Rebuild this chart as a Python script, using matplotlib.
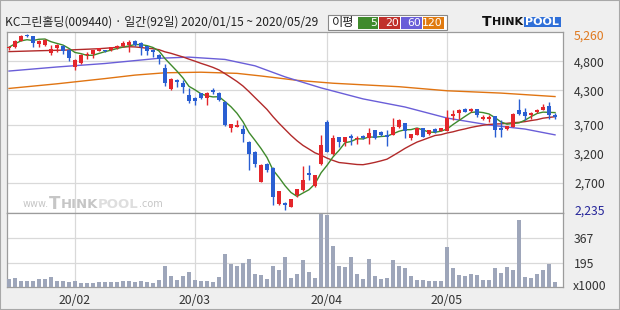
import matplotlib
matplotlib.use("Agg")
import matplotlib.pyplot as plt
import numpy as np
import pandas as pd
from matplotlib.patches import Rectangle

plt.rcParams['font.family'] = ['Noto Sans CJK KR', 'DejaVu Sans']

# ---------------- data ----------------
holidays = ['2020-01-24', '2020-01-27', '2020-04-15', '2020-04-30', '2020-05-01', '2020-05-05']
dates = pd.bdate_range('2020-01-15', '2020-05-29', freq='C', holidays=holidays)

opens = [5020, 5040, 5150, 5250, 5230, 5100, 5080, 4940, 5020, 5070,
         4990, 4700, 4770, 4900, 4920, 4980, 4990, 4990, 5020, 5070,
         5080, 5140, 5120, 5060, 5000, 4910, 4690, 4320, 4480, 4420,
         4220, 4160, 4250, 4160, 4300, 4260, 4100, 3640, 3670, 3630,
         3410, 3240, 2720, 3030, 2960, 2330, 2360, 2290, 2490, 2580,
         2880, 2640, 3020, 3750, 3200, 3490, 3410, 3510, 3450, 3510,
         3470, 3610, 3580, 3530, 3530, 3660, 3730, 3480, 3530, 3640,
         3540, 3630, 3600, 3600, 3860, 3900, 3980, 3940, 3970, 3800,
         3800, 3850, 3650, 3630, 3670, 3960, 3920, 3870, 3920, 3960,
         4020, 3870]
highs = [5060, 5170, 5250, 5260, 5240, 5160, 5180, 5080, 5090, 5080,
         5010, 4840, 4920, 4960, 5000, 5030, 5000, 5050, 5080, 5140,
         5170, 5160, 5130, 5070, 5010, 4920, 4750, 4510, 4490, 4480,
         4330, 4180, 4260, 4270, 4330, 4270, 4110, 3720, 3790, 3700,
         3420, 3250, 3020, 3040, 2970, 2570, 2370, 2430, 2600, 2990,
         3010, 2840, 3530, 3790, 3530, 3500, 3500, 3550, 3510, 3520,
         3640, 3620, 3600, 3610, 3820, 3810, 3740, 3550, 3650, 3650,
         3620, 3640, 3650, 3960, 3960, 3970, 3990, 3990, 3980, 3870,
         3870, 3860, 3790, 3690, 3910, 4140, 3990, 3920, 3970, 4060,
         4100, 3900]
lows = [4990, 5030, 5140, 5220, 5050, 5040, 5060, 4910, 4950, 4920,
        4810, 4640, 4760, 4830, 4850, 4970, 4950, 4980, 5010, 5050,
        4960, 5070, 4910, 4910, 4870, 4760, 4380, 4300, 4360, 4250,
        4080, 4050, 4150, 4050, 4230, 4110, 3680, 3580, 3660, 3410,
        2920, 2970, 2710, 2890, 2320, 2320, 2235, 2280, 2460, 2570,
        2750, 2630, 3010, 3230, 3180, 3320, 3330, 3360, 3380, 3460,
        3380, 3460, 3510, 3330, 3520, 3650, 3470, 3440, 3520, 3490,
        3530, 3570, 3590, 3590, 3790, 3800, 3920, 3930, 3830, 3790,
        3760, 3500, 3500, 3620, 3660, 3880, 3790, 3800, 3900, 3950,
        3810, 3810]
closes = [5040, 5150, 5240, 5230, 5120, 5150, 5170, 5010, 5080, 4980,
          4860, 4820, 4910, 4930, 4990, 5020, 4970, 5040, 5070, 5110,
          5130, 5080, 5040, 4980, 4950, 4830, 4420, 4500, 4440, 4360,
          4110, 4120, 4160, 4260, 4270, 4130, 3700, 3710, 3700, 3540,
          3200, 3030, 3010, 2920, 2460, 2560, 2320, 2420, 2590, 2750,
          2840, 2830, 3360, 3240, 3480, 3400, 3490, 3470, 3470, 3470,
          3570, 3470, 3530, 3500, 3670, 3790, 3600, 3540, 3640, 3500,
          3610, 3580, 3640, 3820, 3890, 3960, 3930, 3980, 3870, 3830,
          3840, 3610, 3610, 3680, 3890, 3890, 3850, 3910, 3950, 4010,
          3870, 3830]
volumes_k = [85, 90, 71, 71, 71, 83, 83, 97, 69, 69,
             64, 71, 55, 55, 55, 62, 62, 62, 62, 69,
             69, 60, 69, 64, 55, 76, 172, 104, 76, 104,
             133, 79, 71, 69, 64, 97, 255, 188, 172, 195,
             220, 117, 108, 83, 172, 145, 234, 90, 117, 214,
             133, 90, 530, 523, 310, 172, 165, 234, 117, 83,
             220, 104, 85, 90, 214, 172, 159, 104, 76, 76,
             67, 69, 69, 303, 159, 110, 104, 117, 110, 76,
             76, 159, 124, 165, 145, 489, 97, 90, 117, 145,
             186, 62]

# moving-average values before enough history exists
ma5_head_idx = [0, 1, 2, 3]
ma5_head_val = [5040, 5100, 5150, 5170]
ma20_head_idx = [0, 5, 10, 15, 18]
ma20_head_val = [4965, 4980, 4993, 5015, 5038]
# long moving averages
ma60_idx = [0, 8, 16, 25, 30, 36, 41, 46, 52, 59, 66, 73, 80, 86, 91]
ma60_val = [4630, 4700, 4760, 4850, 4870, 4830, 4720, 4530, 4340, 4150, 4010, 3820, 3700, 3630, 3530]
ma120_idx = [0, 8, 16, 21, 26, 32, 38, 42, 48, 54, 65, 73, 82, 91]
ma120_val = [4330, 4410, 4500, 4560, 4600, 4610, 4590, 4545, 4470, 4420, 4360, 4290, 4250, 4190]

price_ticks = [2235, 2700, 3200, 3700, 4300, 4800, 5260]
grid_prices = [2700, 3200, 3700, 4300, 4800]
vol_ticks = [195, 367]
month_labels = ['20/02', '20/03', '20/04', '20/05']

# ---------------- styling ----------------
RED = '#e4262b'
BLUE = '#2a5fd2'
C5, C20, C60, C120 = '#3f8a2c', '#b22a2a', '#6a5ed8', '#e07412'
GRID = '#d9d9d9'
SPINE = '#9c9c9c'

W, H = 620, 310
def rect(l, t, r, b):
    return [l / W, 1 - b / H, (r - l) / W, (b - t) / H]

fig = plt.figure(figsize=(6.2, 3.1), dpi=100, facecolor='#efefef')
fig.patches.append(Rectangle((0, 0), 1, 1, transform=fig.transFigure, fill=False,
                             edgecolor='#a8a8a8', lw=1.5))
renderer = fig.canvas.get_renderer()

def seq_text(parts, x0, yc):
    """Place text parts one after another starting at pixel x0, centred at pixel yc."""
    xcur = x0
    for txt, kw in parts:
        t = fig.text(xcur / W, 1 - yc / H, txt, va='center', ha='left', **kw)
        xcur += t.get_window_extent(renderer=renderer).width
    return xcur

ax = fig.add_axes(rect(7, 32, 563, 213))
axv = fig.add_axes(rect(7, 213, 563, 287), sharex=ax)

o = np.array(opens, float); h = np.array(highs, float)
l = np.array(lows, float); c = np.array(closes, float)
x = np.arange(len(c))
up = c >= o
cols = np.where(up, RED, BLUE)

month_idx = [int(np.argmax(dates.month == m)) for m in (2, 3, 4, 5)]

for a in (ax, axv):
    a.set_facecolor('white')
    for m in month_idx:
        a.axvline(m, color=GRID, lw=0.9, zorder=0)
    for s in a.spines.values():
        s.set_color(SPINE); s.set_linewidth(0.9)

for gp in grid_prices:
    ax.axhline(gp, color=GRID, lw=0.9, zorder=0)
for gv in vol_ticks:
    axv.axhline(gv, color=GRID, lw=0.9, zorder=0)

# moving averages
s = pd.Series(c)
ma5 = s.rolling(5).mean()
ma20 = s.rolling(20).mean()
ax.plot(ma120_idx, ma120_val, color=C120, lw=1.0, zorder=2)
ax.plot(ma60_idx, ma60_val, color=C60, lw=1.0, zorder=2)
ax.plot(ma20_head_idx + list(x[19:]), ma20_head_val + list(ma20[19:]), color=C20, lw=1.0, zorder=2)
ax.plot(ma5_head_idx + list(x[4:]), ma5_head_val + list(ma5[4:]), color=C5, lw=1.0, zorder=2)

# candles
ax.vlines(x, l, h, colors=cols, lw=1.0, zorder=3)
body_lo = np.minimum(o, c)
body_h = np.maximum(np.abs(c - o), 12)
ax.bar(x, body_h, bottom=body_lo, width=0.76, color=cols, linewidth=0, zorder=4)

ax.set_xlim(-0.33, len(c) - 1 + 1.33)
ax.set_ylim(2183, 5303)

ax.yaxis.tick_right()
ax.set_yticks(price_ticks)
ax.set_yticklabels([f'{v:,}' for v in price_ticks])
ax.tick_params(axis='y', length=0, pad=8, labelsize=8.8, colors='#333333')
ylabels = ax.get_yticklabels()
ylabels[0].set_color('#26269a')
ylabels[-1].set_color('#e07a20')
ax.tick_params(axis='x', which='both', length=0, labelbottom=False)

# volume
axv.bar(x, volumes_k, width=0.76, color='#9ea6ba', linewidth=0, zorder=3)
axv.set_ylim(28, 537)
axv.yaxis.tick_right()
axv.set_yticks(vol_ticks)
axv.set_yticklabels([str(v) for v in vol_ticks])
axv.tick_params(axis='y', length=0, pad=8, labelsize=8.8, colors='#333333')
axv.set_xticks(month_idx)
axv.set_xticklabels(month_labels)
axv.tick_params(axis='x', length=0, pad=5, labelsize=8.8, colors='#333333')
fig.text(573 / W, 1 - 286 / H, 'x1000', fontsize=8.8, color='#333333', va='center', ha='left')

# title
fig.text(5 / W, 1 - 22 / H, 'KC그린홀딩(009440) · 일간(92일) 2020/01/15 ~ 2020/05/29',
         fontsize=8.6, color='#222222', va='center', ha='left')

# MA legend box
fig.patches.append(Rectangle((328 / W, 1 - 30 / H), 119 / W, 15 / H, transform=fig.transFigure,
                             facecolor='white', edgecolor='#888888', lw=0.8))
fig.text(332 / W, 1 - 22.5 / H, '이평', fontsize=8.8, color='#222222', va='center', ha='left')
legend_items = [('5', C5, 358, 379), ('20', '#c0302b', 379, 401), ('60', '#6a5ed8', 401, 423), ('120', '#e07a10', 423, 445)]
for lab, col, x0, x1 in legend_items:
    fig.patches.append(Rectangle((x0 / W, 1 - 28.5 / H), (x1 - x0 - 1) / W, 12 / H,
                                 transform=fig.transFigure, facecolor=col, edgecolor='none'))
    fig.text((x1 - 2) / W, 1 - 22.5 / H, lab, fontsize=7.8, color='white', va='center', ha='right',
             family='DejaVu Sans')

# THINKPOOL logo
bold = dict(fontweight='bold', family='DejaVu Sans')
xe = seq_text([('T', dict(fontsize=10, color='#111111', **bold)),
               ('HINK', dict(fontsize=8, color='#111111', **bold))], 482, 22)
fig.patches.append(Rectangle(((xe + 1) / W, 1 - 26.5 / H), (561 - xe - 1) / W, 9.5 / H,
                             transform=fig.transFigure, facecolor='#2f6fd8', edgecolor='none'))
fig.text((xe + 1 + 561) / 2 / W, 1 - 22 / H, 'POOL', fontsize=8, color='white', va='center',
         ha='center', **bold)

# watermark
wm = '#c6c6c6'
seq_text([('www.', dict(fontsize=7, color=wm, family='DejaVu Sans')),
          ('T', dict(fontsize=12, color=wm, **bold)),
          ('HINK', dict(fontsize=9.5, color=wm, **bold)),
          ('POOL', dict(fontsize=9.5, color='#dedede', **bold)),
          ('.com', dict(fontsize=7, color=wm, family='DejaVu Sans'))], 23, 204)

fig.savefig('out.png', dpi=100, facecolor=fig.get_facecolor())
